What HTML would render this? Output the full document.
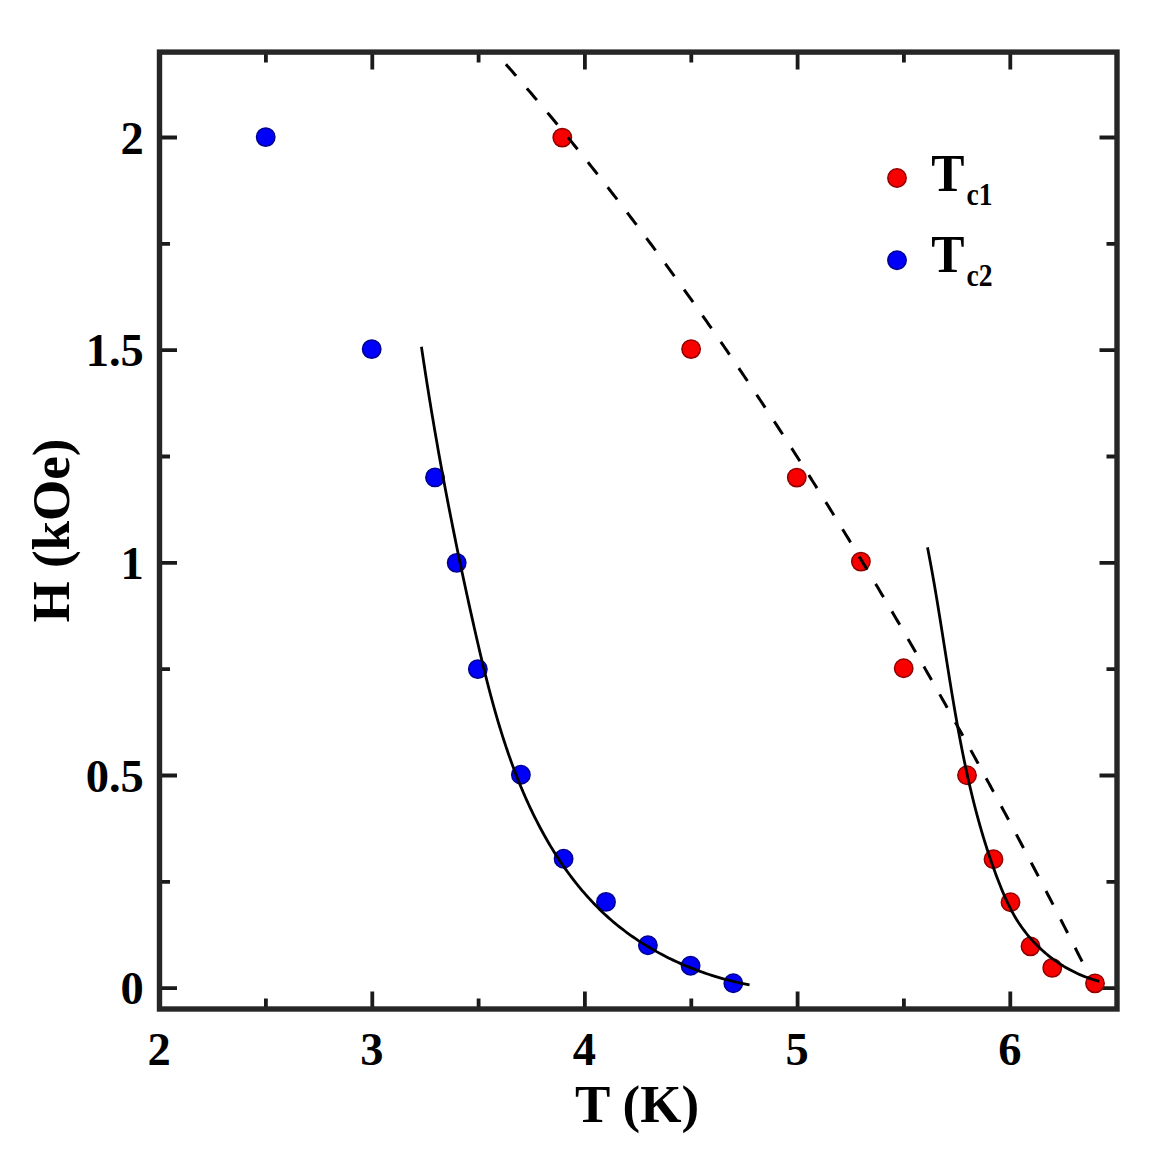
<!DOCTYPE html><html><head><meta charset="utf-8"><style>html,body{margin:0;padding:0;background:#fff;}svg{display:block;}text{font-family:"Liberation Serif",serif;font-weight:bold;fill:#000;}</style></head><body>
<div id="w"><svg width="1153" height="1153" viewBox="0 0 1153 1153">
<rect width="1153" height="1153" fill="#fff"/>
<path d="M265.9,1009.0v-10.5M265.9,52.1v10.5M372.3,1009.0v-17.5M372.3,52.1v17.5M478.6,1009.0v-10.5M478.6,52.1v10.5M584.9,1009.0v-17.5M584.9,52.1v17.5M691.3,1009.0v-10.5M691.3,52.1v10.5M797.6,1009.0v-17.5M797.6,52.1v17.5M903.9,1009.0v-10.5M903.9,52.1v10.5M1010.3,1009.0v-17.5M1010.3,52.1v17.5M159.5,988.2h17.5M1117.0,988.2h-17.5M159.5,881.9h10.5M1117.0,881.9h-10.5M159.5,775.5h17.5M1117.0,775.5h-17.5M159.5,669.2h10.5M1117.0,669.2h-10.5M159.5,562.9h17.5M1117.0,562.9h-17.5M159.5,456.5h10.5M1117.0,456.5h-10.5M159.5,350.2h17.5M1117.0,350.2h-17.5M159.5,243.8h10.5M1117.0,243.8h-10.5M159.5,137.5h17.5M1117.0,137.5h-17.5" stroke="#1a1a1a" stroke-width="3.8" fill="none"/>
<circle cx="265.7" cy="137.1" r="9.2" fill="#0000f8" stroke="#000090" stroke-width="1.5"/>
<circle cx="371.7" cy="349.1" r="9.2" fill="#0000f8" stroke="#000090" stroke-width="1.5"/>
<circle cx="435" cy="477.4" r="9.2" fill="#0000f8" stroke="#000090" stroke-width="1.5"/>
<circle cx="456.7" cy="562.85" r="9.2" fill="#0000f8" stroke="#000090" stroke-width="1.5"/>
<circle cx="477.85" cy="669.1" r="9.2" fill="#0000f8" stroke="#000090" stroke-width="1.5"/>
<circle cx="520.9" cy="774.75" r="9.2" fill="#0000f8" stroke="#000090" stroke-width="1.5"/>
<circle cx="563.6" cy="858.8" r="9.2" fill="#0000f8" stroke="#000090" stroke-width="1.5"/>
<circle cx="606" cy="901.9" r="9.2" fill="#0000f8" stroke="#000090" stroke-width="1.5"/>
<circle cx="647.9" cy="945.2" r="9.2" fill="#0000f8" stroke="#000090" stroke-width="1.5"/>
<circle cx="690.6" cy="965.8" r="9.2" fill="#0000f8" stroke="#000090" stroke-width="1.5"/>
<circle cx="733.3" cy="983.3" r="9.2" fill="#0000f8" stroke="#000090" stroke-width="1.5"/>
<circle cx="562.3" cy="137.6" r="9.2" fill="#f80000" stroke="#900000" stroke-width="1.5"/>
<circle cx="691.1" cy="349.1" r="9.2" fill="#f80000" stroke="#900000" stroke-width="1.5"/>
<circle cx="796.8" cy="477.6" r="9.2" fill="#f80000" stroke="#900000" stroke-width="1.5"/>
<circle cx="860.9" cy="561.6" r="9.2" fill="#f80000" stroke="#900000" stroke-width="1.5"/>
<circle cx="903.7" cy="668.3" r="9.2" fill="#f80000" stroke="#900000" stroke-width="1.5"/>
<circle cx="967" cy="775.25" r="9.2" fill="#f80000" stroke="#900000" stroke-width="1.5"/>
<circle cx="993.5" cy="859.25" r="9.2" fill="#f80000" stroke="#900000" stroke-width="1.5"/>
<circle cx="1010.5" cy="902.2" r="9.2" fill="#f80000" stroke="#900000" stroke-width="1.5"/>
<circle cx="1030.5" cy="946.35" r="9.2" fill="#f80000" stroke="#900000" stroke-width="1.5"/>
<circle cx="1052.25" cy="967.9" r="9.2" fill="#f80000" stroke="#900000" stroke-width="1.5"/>
<circle cx="1095" cy="983.35" r="9.2" fill="#f80000" stroke="#900000" stroke-width="1.5"/>
<path d="M421.44,346.80 L421.82,349.37 L422.20,351.94 L422.58,354.51 L422.97,357.08 L423.35,359.64 L423.74,362.21 L424.13,364.77 L424.52,367.33 L424.91,369.89 L425.31,372.45 L425.70,375.00 L426.10,377.56 L426.50,380.11 L426.90,382.67 L427.31,385.22 L427.71,387.77 L428.12,390.32 L428.53,392.86 L428.94,395.41 L429.35,397.96 L429.76,400.50 L430.18,403.04 L430.59,405.59 L431.01,408.13 L431.43,410.67 L431.86,413.20 L432.28,415.74 L432.71,418.28 L433.14,420.81 L433.56,423.35 L434.00,425.88 L434.43,428.41 L434.86,430.94 L435.30,433.48 L435.74,436.01 L436.18,438.53 L436.62,441.06 L437.06,443.59 L437.51,446.11 L437.96,448.64 L438.40,451.16 L438.85,453.69 L439.31,456.21 L439.76,458.73 L440.22,461.25 L440.67,463.78 L441.13,466.30 L441.59,468.81 L442.06,471.33 L442.52,473.85 L442.99,476.37 L443.45,478.88 L443.92,481.40 L444.40,483.92 L444.87,486.43 L445.34,488.95 L445.82,491.46 L446.30,493.97 L446.78,496.49 L447.26,499.00 L447.74,501.51 L448.23,504.02 L448.71,506.53 L449.20,509.04 L449.69,511.55 L450.19,514.06 L450.68,516.57 L451.17,519.08 L451.67,521.59 L452.17,524.10 L452.67,526.61 L453.17,529.12 L453.68,531.63 L454.18,534.13 L454.69,536.64 L455.20,539.15 L455.71,541.66 L456.22,544.16 L456.74,546.67 L457.25,549.18 L457.77,551.68 L458.29,554.19 L458.81,556.70 L459.33,559.20 L459.86,561.71 L460.39,564.22 L460.91,566.72 L461.44,569.23 L461.97,571.74 L462.51,574.24 L463.04,576.75 L463.58,579.26 L464.12,581.77 L464.66,584.27 L465.20,586.78 L465.74,589.29 L466.29,591.80 L466.83,594.30 L467.38,596.81 L467.93,599.32 L468.48,601.83 L469.04,604.34 L469.59,606.85 L470.15,609.36 L470.71,611.87 L471.27,614.38 L471.83,616.89 L472.39,619.40 L472.96,621.91 L473.53,624.42 L474.09,626.94 L474.66,629.45 L475.24,631.96 L475.81,634.48 L476.39,636.99 L476.96,639.50 L477.54,642.02 L478.13,644.53 L478.71,647.05 L479.30,649.56 L479.89,652.08 L480.48,654.59 L481.08,657.10 L481.68,659.62 L482.29,662.13 L482.89,664.64 L483.51,667.15 L484.12,669.66 L484.74,672.17 L485.36,674.68 L485.99,677.19 L486.62,679.70 L487.26,682.20 L487.90,684.71 L488.55,687.21 L489.20,689.71 L489.86,692.21 L490.52,694.71 L491.19,697.20 L491.87,699.70 L492.55,702.19 L493.23,704.68 L493.92,707.17 L494.62,709.65 L495.33,712.14 L496.04,714.62 L496.76,717.10 L497.48,719.58 L498.22,722.05 L498.96,724.52 L499.70,726.99 L500.46,729.45 L501.22,731.92 L501.99,734.38 L502.77,736.83 L503.56,739.29 L504.35,741.74 L505.16,744.18 L505.97,746.63 L506.79,749.07 L507.62,751.50 L508.46,753.93 L509.31,756.36 L510.16,758.79 L511.03,761.21 L511.91,763.62 L512.79,766.04 L513.69,768.44 L514.60,770.85 L515.51,773.25 L516.44,775.64 L517.38,778.03 L518.33,780.42 L519.28,782.80 L520.26,785.17 L521.24,787.54 L522.23,789.91 L523.23,792.27 L524.25,794.63 L525.28,796.98 L526.32,799.32 L527.37,801.66 L528.43,804.00 L529.51,806.32 L530.60,808.65 L531.70,810.96 L532.81,813.27 L533.94,815.58 L535.08,817.88 L536.24,820.17 L537.40,822.46 L538.58,824.74 L539.78,827.01 L540.99,829.28 L542.21,831.54 L543.44,833.79 L544.69,836.03 L545.96,838.27 L547.24,840.49 L548.53,842.71 L549.83,844.92 L551.15,847.12 L552.49,849.32 L553.84,851.50 L555.20,853.67 L556.58,855.83 L557.98,857.98 L559.39,860.12 L560.81,862.25 L562.25,864.37 L563.70,866.48 L565.17,868.57 L566.65,870.66 L568.15,872.73 L569.67,874.79 L571.20,876.83 L572.75,878.87 L574.31,880.89 L575.89,882.89 L577.48,884.89 L579.09,886.86 L580.72,888.83 L582.36,890.78 L584.02,892.71 L585.69,894.63 L587.39,896.54 L589.09,898.42 L590.82,900.30 L592.56,902.15 L594.32,903.99 L596.09,905.82 L597.88,907.63 L599.69,909.41 L601.52,911.19 L603.36,912.94 L605.22,914.68 L607.10,916.40 L608.99,918.10 L610.91,919.78 L612.84,921.44 L614.79,923.08 L616.75,924.71 L618.73,926.31 L620.73,927.90 L622.75,929.46 L624.78,931.01 L626.83,932.54 L628.89,934.05 L630.97,935.54 L633.07,937.01 L635.18,938.46 L637.30,939.89 L639.44,941.30 L641.59,942.69 L643.76,944.06 L645.94,945.42 L648.14,946.75 L650.35,948.07 L652.57,949.36 L654.81,950.64 L657.06,951.89 L659.32,953.13 L661.59,954.35 L663.87,955.54 L666.17,956.72 L668.48,957.88 L670.80,959.02 L673.13,960.13 L675.47,961.23 L677.82,962.31 L680.18,963.37 L682.56,964.41 L684.94,965.43 L687.33,966.43 L689.73,967.41 L692.14,968.37 L694.56,969.31 L696.99,970.23 L699.43,971.13 L701.87,972.01 L704.32,972.87 L706.78,973.71 L709.25,974.53 L711.73,975.33 L714.21,976.11 L716.70,976.87 L719.19,977.61 L721.69,978.33 L724.20,979.03 L726.71,979.70 L729.23,980.36 L731.76,981.00 L734.28,981.62 L736.82,982.22 L739.36,982.79 L741.90,983.35 L744.45,983.89 L747.00,984.41 L749.55,984.90" stroke="#000" stroke-width="2.8" fill="none"/>
<path d="M927.49,547.39 L927.80,548.99 L928.11,550.58 L928.42,552.17 L928.73,553.77 L929.04,555.36 L929.34,556.96 L929.64,558.56 L929.94,560.16 L930.24,561.76 L930.54,563.36 L930.83,564.96 L931.13,566.56 L931.42,568.16 L931.71,569.76 L932.00,571.37 L932.29,572.97 L932.58,574.58 L932.86,576.18 L933.15,577.79 L933.43,579.40 L933.71,581.01 L933.99,582.61 L934.27,584.22 L934.55,585.83 L934.82,587.44 L935.10,589.06 L935.38,590.67 L935.65,592.28 L935.92,593.89 L936.19,595.51 L936.46,597.12 L936.73,598.73 L937.00,600.35 L937.27,601.97 L937.54,603.58 L937.80,605.20 L938.07,606.81 L938.33,608.43 L938.60,610.05 L938.86,611.67 L939.12,613.29 L939.39,614.91 L939.65,616.53 L939.91,618.15 L940.17,619.77 L940.43,621.39 L940.69,623.01 L940.95,624.63 L941.21,626.25 L941.46,627.87 L941.72,629.50 L941.98,631.12 L942.24,632.74 L942.49,634.36 L942.75,635.99 L943.01,637.61 L943.26,639.24 L943.52,640.86 L943.78,642.48 L944.03,644.11 L944.29,645.73 L944.54,647.36 L944.80,648.98 L945.06,650.61 L945.31,652.24 L945.57,653.86 L945.83,655.49 L946.08,657.11 L946.34,658.74 L946.60,660.36 L946.85,661.99 L947.11,663.62 L947.37,665.24 L947.63,666.87 L947.89,668.50 L948.15,670.12 L948.41,671.75 L948.67,673.37 L948.93,675.00 L949.19,676.63 L949.45,678.25 L949.71,679.88 L949.98,681.50 L950.24,683.13 L950.50,684.76 L950.77,686.38 L951.03,688.01 L951.30,689.63 L951.57,691.26 L951.84,692.88 L952.11,694.51 L952.38,696.13 L952.65,697.76 L952.92,699.38 L953.19,701.01 L953.47,702.63 L953.74,704.26 L954.02,705.88 L954.29,707.50 L954.57,709.12 L954.85,710.75 L955.13,712.37 L955.42,713.99 L955.70,715.61 L955.98,717.24 L956.27,718.86 L956.56,720.48 L956.85,722.10 L957.14,723.72 L957.43,725.34 L957.72,726.96 L958.02,728.58 L958.31,730.19 L958.61,731.81 L958.91,733.43 L959.21,735.05 L959.52,736.66 L959.82,738.28 L960.13,739.90 L960.43,741.51 L960.74,743.12 L961.06,744.74 L961.37,746.35 L961.69,747.97 L962.00,749.58 L962.32,751.19 L962.64,752.80 L962.97,754.41 L963.29,756.02 L963.62,757.63 L963.95,759.24 L964.28,760.85 L964.62,762.46 L964.95,764.06 L965.29,765.67 L965.63,767.27 L965.97,768.88 L966.32,770.48 L966.67,772.09 L967.02,773.69 L967.37,775.29 L967.72,776.89 L968.08,778.49 L968.44,780.09 L968.80,781.69 L969.17,783.29 L969.54,784.88 L969.91,786.48 L970.28,788.07 L970.66,789.67 L971.03,791.26 L971.41,792.85 L971.80,794.45 L972.19,796.04 L972.57,797.63 L972.97,799.22 L973.36,800.80 L973.76,802.39 L974.16,803.98 L974.57,805.56 L974.97,807.15 L975.38,808.73 L975.80,810.31 L976.21,811.89 L976.63,813.47 L977.06,815.05 L977.48,816.63 L977.91,818.21 L978.34,819.78 L978.78,821.36 L979.22,822.93 L979.66,824.50 L980.11,826.07 L980.56,827.64 L981.01,829.21 L981.47,830.78 L981.93,832.35 L982.39,833.91 L982.86,835.48 L983.33,837.04 L983.80,838.60 L984.28,840.16 L984.76,841.72 L985.25,843.28 L985.74,844.84 L986.23,846.39 L986.73,847.95 L987.23,849.50 L987.73,851.05 L988.24,852.60 L988.75,854.15 L989.27,855.70 L989.79,857.24 L990.31,858.79 L990.84,860.33 L991.38,861.87 L991.91,863.41 L992.45,864.95 L993.00,866.49 L993.55,868.03 L994.10,869.56 L994.66,871.09 L995.22,872.63 L995.79,874.16 L996.36,875.68 L996.94,877.21 L997.52,878.74 L998.10,880.26 L998.69,881.78 L999.28,883.31 L999.88,884.82 L1000.48,886.34 L1001.09,887.86 L1001.71,889.37 L1002.33,890.88 L1002.96,892.38 L1003.60,893.88 L1004.25,895.38 L1004.90,896.87 L1005.56,898.36 L1006.24,899.85 L1006.92,901.32 L1007.61,902.80 L1008.31,904.27 L1009.03,905.73 L1009.75,907.18 L1010.49,908.63 L1011.24,910.07 L1012.00,911.51 L1012.78,912.94 L1013.57,914.35 L1014.37,915.77 L1015.19,917.17 L1016.02,918.56 L1016.87,919.95 L1017.73,921.32 L1018.61,922.69 L1019.51,924.05 L1020.43,925.39 L1021.35,926.73 L1022.30,928.06 L1023.26,929.37 L1024.24,930.68 L1025.23,931.97 L1026.24,933.25 L1027.26,934.52 L1028.30,935.79 L1029.35,937.03 L1030.42,938.27 L1031.50,939.50 L1032.60,940.71 L1033.71,941.91 L1034.84,943.10 L1035.98,944.27 L1037.13,945.44 L1038.30,946.59 L1039.48,947.72 L1040.67,948.85 L1041.88,949.96 L1043.10,951.05 L1044.33,952.14 L1045.58,953.20 L1046.84,954.26 L1048.11,955.30 L1049.39,956.32 L1050.69,957.34 L1052.00,958.33 L1053.32,959.31 L1054.65,960.28 L1055.99,961.23 L1057.35,962.16 L1058.71,963.08 L1060.09,963.98 L1061.47,964.87 L1062.87,965.74 L1064.28,966.59 L1065.70,967.43 L1067.13,968.25 L1068.57,969.06 L1070.02,969.84 L1071.48,970.61 L1072.95,971.36 L1074.43,972.10 L1075.92,972.81 L1077.42,973.51 L1078.92,974.19 L1080.44,974.85 L1081.96,975.49 L1083.50,976.12 L1085.04,976.72 L1086.59,977.31 L1088.15,977.87 L1089.71,978.42 L1091.29,978.95 L1092.87,979.46 L1094.46,979.94 L1096.05,980.41 L1097.66,980.86 L1099.27,981.29" stroke="#000" stroke-width="2.8" fill="none"/>
<path d="M505.93,64.28 L507.37,65.92 L508.82,67.56 L510.27,69.21 L511.71,70.86 L513.16,72.51 L514.60,74.17 L516.05,75.83 L517.49,77.49 L518.94,79.15 L520.38,80.82 L521.83,82.49 L523.27,84.16 L524.72,85.84 L526.17,87.52 L527.61,89.21 L529.06,90.89 L530.50,92.58 L531.95,94.28 L533.39,95.97 L534.84,97.67 L536.28,99.37 L537.73,101.08 L539.17,102.78 L540.62,104.49 L542.06,106.21 L543.51,107.92 L544.95,109.65 L546.40,111.37 L547.84,113.10 L549.29,114.83 L550.73,116.56 L552.18,118.29 L553.63,120.03 L555.07,121.77 L556.52,123.52 L557.96,125.27 L559.41,127.02 L560.85,128.77 L562.30,130.53 L563.74,132.29 L565.19,134.05 L566.64,135.82 L568.08,137.59 L569.53,139.36 L570.97,141.13 L572.42,142.91 L573.86,144.69 L575.31,146.48 L576.75,148.27 L578.20,150.06 L579.64,151.85 L581.09,153.65 L582.53,155.45 L583.98,157.25 L585.42,159.06 L586.87,160.87 L588.31,162.68 L589.76,164.50 L591.20,166.31 L592.65,168.14 L594.10,169.96 L595.54,171.79 L596.99,173.62 L598.43,175.45 L599.88,177.29 L601.32,179.13 L602.77,180.97 L604.22,182.82 L605.66,184.67 L607.11,186.52 L608.55,188.37 L610.00,190.23 L611.44,192.09 L612.89,193.96 L614.33,195.83 L615.78,197.70 L617.22,199.57 L618.67,201.45 L620.11,203.33 L621.56,205.21 L623.00,207.10 L624.45,208.99 L625.89,210.88 L627.34,212.77 L628.78,214.67 L630.23,216.57 L631.67,218.48 L633.12,220.38 L634.57,222.30 L636.01,224.21 L637.46,226.13 L638.90,228.04 L640.35,229.97 L641.79,231.89 L643.24,233.82 L644.69,235.76 L646.13,237.69 L647.58,239.63 L649.02,241.57 L650.47,243.51 L651.91,245.46 L653.36,247.41 L654.80,249.37 L656.25,251.32 L657.69,253.28 L659.14,255.24 L660.58,257.21 L662.03,259.18 L663.47,261.15 L664.92,263.13 L666.36,265.10 L667.81,267.09 L669.25,269.07 L670.70,271.06 L672.15,273.05 L673.59,275.04 L675.04,277.04 L676.48,279.03 L677.93,281.04 L679.37,283.04 L680.82,285.05 L682.26,287.07 L683.71,289.08 L685.15,291.10 L686.60,293.12 L688.04,295.14 L689.49,297.17 L690.94,299.20 L692.38,301.24 L693.83,303.27 L695.27,305.31 L696.72,307.35 L698.16,309.40 L699.61,311.44 L701.05,313.50 L702.50,315.55 L703.94,317.61 L705.39,319.67 L706.83,321.73 L708.28,323.80 L709.72,325.87 L711.17,327.95 L712.62,330.02 L714.06,332.10 L715.51,334.19 L716.95,336.27 L718.40,338.36 L719.84,340.45 L721.29,342.54 L722.73,344.64 L724.18,346.74 L725.62,348.85 L727.07,350.95 L728.51,353.06 L729.96,355.18 L731.40,357.29 L732.85,359.41 L734.30,361.53 L735.74,363.66 L737.19,365.79 L738.63,367.92 L740.08,370.05 L741.52,372.19 L742.97,374.34 L744.41,376.48 L745.86,378.63 L747.30,380.77 L748.75,382.93 L750.19,385.08 L751.64,387.24 L753.09,389.41 L754.53,391.57 L755.98,393.74 L757.42,395.91 L758.87,398.09 L760.31,400.26 L761.76,402.44 L763.20,404.63 L764.65,406.81 L766.09,409.00 L767.54,411.19 L768.98,413.39 L770.43,415.59 L771.87,417.79 L773.32,420.00 L774.76,422.21 L776.21,424.42 L777.66,426.63 L779.10,428.85 L780.55,431.07 L781.99,433.29 L783.44,435.52 L784.88,437.75 L786.33,439.99 L787.77,442.22 L789.22,444.46 L790.67,446.70 L792.11,448.95 L793.56,451.20 L795.00,453.44 L796.45,455.70 L797.89,457.96 L799.34,460.22 L800.78,462.48 L802.23,464.75 L803.67,467.02 L805.12,469.29 L806.56,471.57 L808.01,473.84 L809.45,476.13 L810.90,478.41 L812.34,480.70 L813.79,482.99 L815.23,485.28 L816.68,487.58 L818.12,489.88 L819.57,492.19 L821.02,494.50 L822.46,496.80 L823.91,499.12 L825.35,501.43 L826.80,503.75 L828.24,506.07 L829.69,508.40 L831.14,510.73 L832.58,513.06 L834.03,515.39 L835.47,517.73 L836.92,520.07 L838.36,522.41 L839.81,524.76 L841.25,527.11 L842.70,529.46 L844.14,531.82 L845.59,534.17 L847.03,536.54 L848.48,538.90 L849.92,541.27 L851.37,543.64 L852.81,546.01 L854.26,548.39 L855.70,550.77 L857.15,553.15 L858.60,555.54 L860.04,557.93 L861.49,560.32 L862.93,562.72 L864.38,565.12 L865.82,567.52 L867.27,569.92 L868.72,572.33 L870.16,574.74 L871.61,577.16 L873.05,579.57 L874.50,581.99 L875.94,584.41 L877.39,586.84 L878.83,589.27 L880.28,591.70 L881.72,594.14 L883.17,596.58 L884.61,599.02 L886.06,601.46 L887.50,603.91 L888.95,606.37 L890.39,608.82 L891.84,611.28 L893.28,613.73 L894.73,616.20 L896.17,618.66 L897.62,621.13 L899.07,623.61 L900.51,626.08 L901.96,628.56 L903.40,631.04 L904.85,633.52 L906.29,636.01 L907.74,638.50 L909.18,641.00 L910.63,643.49 L912.08,645.99 L913.52,648.49 L914.97,651.00 L916.41,653.51 L917.86,656.02 L919.30,658.54 L920.75,661.06 L922.19,663.58 L923.64,666.10 L925.08,668.63 L926.53,671.16 L927.97,673.69 L929.42,676.23 L930.86,678.77 L932.31,681.32 L933.75,683.86 L935.20,686.41 L936.65,688.96 L938.09,691.52 L939.54,694.08 L940.98,696.63 L942.43,699.20 L943.87,701.77 L945.32,704.34 L946.76,706.91 L948.21,709.49 L949.65,712.07 L951.10,714.65 L952.54,717.24 L953.99,719.82 L955.43,722.42 L956.88,725.02 L958.33,727.61 L959.77,730.21 L961.22,732.82 L962.66,735.42 L964.11,738.03 L965.55,740.65 L967.00,743.27 L968.44,745.88 L969.89,748.51 L971.33,751.13 L972.78,753.76 L974.22,756.39 L975.67,759.03 L977.12,761.67 L978.56,764.31 L980.01,766.95 L981.45,769.60 L982.90,772.25 L984.34,774.90 L985.79,777.56 L987.23,780.22 L988.68,782.88 L990.12,785.55 L991.57,788.21 L993.01,790.89 L994.46,793.56 L995.90,796.24 L997.35,798.92 L998.79,801.60 L1000.24,804.29 L1001.69,806.98 L1003.13,809.68 L1004.58,812.38 L1006.02,815.07 L1007.47,817.78 L1008.91,820.48 L1010.36,823.19 L1011.80,825.90 L1013.25,828.62 L1014.70,831.34 L1016.14,834.05 L1017.59,836.78 L1019.03,839.50 L1020.48,842.24 L1021.92,844.97 L1023.37,847.70 L1024.81,850.45 L1026.26,853.19 L1027.70,855.93 L1029.15,858.68 L1030.59,861.43 L1032.04,864.18 L1033.48,866.94 L1034.93,869.71 L1036.37,872.47 L1037.82,875.24 L1039.26,878.00 L1040.71,880.78 L1042.15,883.55 L1043.60,886.33 L1045.05,889.12 L1046.49,891.90 L1047.94,894.69 L1049.38,897.48 L1050.83,900.28 L1052.27,903.07 L1053.72,905.88 L1055.17,908.68 L1056.61,911.49 L1058.06,914.30 L1059.50,917.11 L1060.95,919.93 L1062.39,922.74 L1063.84,925.57 L1065.28,928.39 L1066.73,931.22 L1068.17,934.05 L1069.62,936.88 L1071.06,939.72 L1072.51,942.56 L1073.95,945.41 L1075.40,948.26 L1076.84,951.10 L1078.29,953.96 L1079.73,956.81 L1081.18,959.67 L1082.63,962.54" stroke="#000" stroke-width="3" fill="none" stroke-dasharray="15.4 16.53"/>
<rect x="159.5" y="52.1" width="957.5" height="956.9" fill="none" stroke="#262626" stroke-width="5.4"/>
<text x="159.1" y="1065.2" font-size="46.5" text-anchor="middle">2</text>
<text x="371.8" y="1065.2" font-size="46.5" text-anchor="middle">3</text>
<text x="584.4" y="1065.2" font-size="46.5" text-anchor="middle">4</text>
<text x="797.1" y="1065.2" font-size="46.5" text-anchor="middle">5</text>
<text x="1009.8" y="1065.2" font-size="46.5" text-anchor="middle">6</text>
<text x="143.8" y="153.6" font-size="46.5" text-anchor="end">2</text>
<text x="143.8" y="366.3" font-size="46.5" text-anchor="end">1.5</text>
<text x="143.8" y="579.0" font-size="46.5" text-anchor="end">1</text>
<text x="143.8" y="791.6" font-size="46.5" text-anchor="end">0.5</text>
<text x="143.8" y="1004.3" font-size="46.5" text-anchor="end">0</text>
<text x="637" y="1122" font-size="53" text-anchor="middle">T (K)</text>
<text transform="translate(69.2,530.5) rotate(-90)" x="0" y="0" font-size="53" text-anchor="middle">H (kOe)</text>
<circle cx="897" cy="178" r="9.2" fill="#f80000" stroke="#900000" stroke-width="1.5"/>
<circle cx="897" cy="260.3" r="9.2" fill="#0000f8" stroke="#000090" stroke-width="1.5"/>
<text transform="translate(931.2,191.0) scale(0.94,1)" font-size="53">T</text>
<text transform="translate(966.4,205.0) scale(0.85,1)" font-size="32.5">c1</text>
<text transform="translate(931.2,271.8) scale(0.94,1)" font-size="53">T</text>
<text transform="translate(966.4,285.5) scale(0.85,1)" font-size="32.5">c2</text>
</svg></div></body></html>
